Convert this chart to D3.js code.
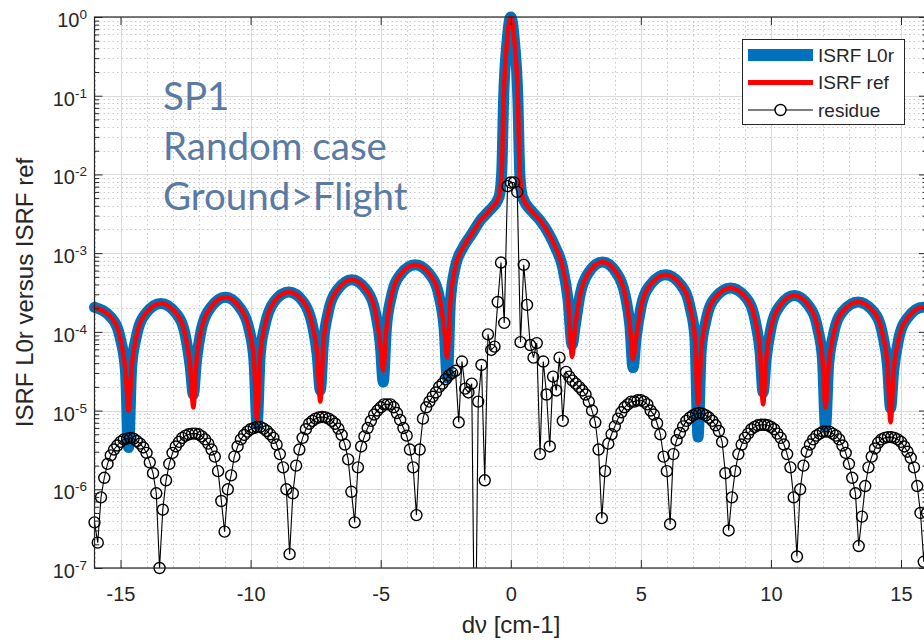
<!DOCTYPE html>
<html>
<head>
<meta charset="utf-8">
<script src="https://cdn.jsdelivr.net/npm/d3@7"></script>
<style>
  html, body { margin: 0; padding: 0; background: #ffffff; }
  svg { display: block; font-family: "Liberation Sans", Arial, Helvetica, sans-serif; }
</style>
</head>
<body>
<svg id="chart" width="924" height="640"></svg>
<script>
// ---- axis ticks ----
const xTicks = [-15, -10, -5, 0, 5, 10, 15];
const yDecades = [0, -1, -2, -3, -4, -5, -6, -7];

// ---- ISRF curves (knots across the spectral axis, cm-1) ----
const isrfX = [
  -16.0, -15.34, -14.99, -14.81, -14.69, -14.57, -14.39, -14.04, -13.45, -12.85, -12.5, -12.32,
  -12.2, -12.08, -11.9, -11.55, -10.97, -10.4, -10.05, -9.87,
  -9.75, -9.63, -9.45, -9.1, -8.53, -7.97, -7.62, -7.44,
  -7.32, -7.2, -7.02, -6.67, -6.11, -5.55, -5.2, -5.02,
  -4.9, -4.78, -4.6, -4.25, -3.67, -3.1, -2.74, -2.56,
  -2.44, -2.32, -2.14, -1.82, -1.5, -1.17, -0.85, -0.45, -0.35, -0.27, -0.14,
  0,
  0.14, 0.27, 0.35, 0.45, 0.85, 1.13, 1.45, 1.71, 2.0, 2.2,
  2.36, 2.48, 2.66, 3.0, 3.53, 4.05, 4.4, 4.58,
  4.7, 4.82, 5.0, 5.35, 5.95, 6.55, 6.9, 7.08,
  7.2, 7.32, 7.5, 7.85, 8.45, 9.05, 9.4, 9.58,
  9.7, 9.82, 10.0, 10.35, 10.9, 11.45, 11.8, 11.98,
  12.1, 12.22, 12.4, 12.75, 13.35, 13.95, 14.3, 14.48,
  14.6, 14.72, 14.9, 15.25, 15.85, 16.0
];
const isrfRef = [
  2.05e-4, 1.5e-4, 7.8e-5, 3.2e-5, 1.0e-5, 3.6e-5, 8.7e-5, 1.7e-4, 2.3e-4, 1.7e-4, 8.7e-5, 3.6e-5,
  1.1e-5, 4.3e-5, 1.05e-4, 2.0e-4, 2.75e-4, 2.0e-4, 1.05e-4, 4.3e-5,
  7.6e-6, 5.1e-5, 1.2e-4, 2.4e-4, 3.2e-4, 2.4e-4, 1.2e-4, 5.1e-5,
  1.3e-5, 7.3e-5, 1.75e-4, 3.4e-4, 4.6e-4, 3.4e-4, 1.75e-4, 7.3e-5,
  3.2e-5, 1.1e-4, 2.7e-4, 5.3e-4, 7.1e-4, 5.3e-4, 2.7e-4, 1.1e-4,
  4.7e-5, 2.4e-4, 6.5e-4, 1.2e-3, 1.75e-3, 2.6e-3, 3.4e-3, 5.2e-3, 1.0e-2, 1.0e-1, 0.5,
  1.0,
  0.5, 1.0e-1, 1.0e-2, 5.2e-3, 3.3e-3, 2.6e-3, 1.8e-3, 1.2e-3, 6.5e-4, 2.6e-4,
  4.8e-5, 1.2e-4, 2.9e-4, 5.7e-4, 7.7e-4, 5.7e-4, 2.9e-4, 1.2e-4,
  4.5e-5, 8.4e-5, 2.0e-4, 3.9e-4, 5.3e-4, 3.9e-4, 2.0e-4, 8.4e-5,
  1.2e-5, 5.7e-5, 1.37e-4, 2.7e-4, 3.6e-4, 2.7e-4, 1.37e-4, 5.7e-5,
  1.2e-5, 4.6e-5, 1.1e-4, 2.15e-4, 2.9e-4, 2.15e-4, 1.1e-4, 4.6e-5,
  1.1e-5, 3.8e-5, 9.1e-5, 1.8e-4, 2.4e-4, 1.8e-4, 9.1e-5, 3.8e-5,
  7.1e-6, 3.2e-5, 7.8e-5, 1.5e-4, 2.05e-4, 2.05e-4
];
const isrfL0r = [
  2.05e-4, 1.5e-4, 7.8e-5, 3.2e-5, 3.4e-6, 3.6e-5, 8.7e-5, 1.7e-4, 2.3e-4, 1.7e-4, 8.7e-5, 3.6e-5,
  1.6e-5, 4.3e-5, 1.05e-4, 2.0e-4, 2.75e-4, 2.0e-4, 1.05e-4, 4.3e-5,
  6.6e-6, 5.1e-5, 1.2e-4, 2.4e-4, 3.2e-4, 2.4e-4, 1.2e-4, 5.1e-5,
  1.8e-5, 7.3e-5, 1.75e-4, 3.4e-4, 4.6e-4, 3.4e-4, 1.75e-4, 7.3e-5,
  2.3e-5, 1.1e-4, 2.7e-4, 5.3e-4, 7.1e-4, 5.3e-4, 2.7e-4, 1.1e-4,
  2.6e-5, 2.4e-4, 6.5e-4, 1.2e-3, 1.75e-3, 2.6e-3, 3.4e-3, 5.2e-3, 1.0e-2, 1.0e-1, 0.5,
  1.0,
  0.5, 1.0e-1, 1.0e-2, 5.2e-3, 3.3e-3, 2.6e-3, 1.8e-3, 1.2e-3, 6.5e-4, 2.6e-4,
  6.8e-5, 1.2e-4, 2.9e-4, 5.7e-4, 7.7e-4, 5.7e-4, 2.9e-4, 1.2e-4,
  3.5e-5, 8.4e-5, 2.0e-4, 3.9e-4, 5.3e-4, 3.9e-4, 2.0e-4, 8.4e-5,
  4.6e-6, 5.7e-5, 1.37e-4, 2.7e-4, 3.6e-4, 2.7e-4, 1.37e-4, 5.7e-5,
  1.7e-5, 4.6e-5, 1.1e-4, 2.15e-4, 2.9e-4, 2.15e-4, 1.1e-4, 4.6e-5,
  6.2e-6, 3.8e-5, 9.1e-5, 1.8e-4, 2.4e-4, 1.8e-4, 9.1e-5, 3.8e-5,
  1.07e-5, 3.2e-5, 7.8e-5, 1.5e-4, 2.05e-4, 2.05e-4
];

// ---- residue |L0r - ref|, sampled every 0.125 cm-1 from -16 to 16 ----
const residueStart = -16;
const residueStep = 0.125;
const residue = [
  3.8e-7, 2.1e-7, 7.9e-7, 1.4e-6, 2.1e-6, 2.7e-6, 3.2e-6, 3.6e-6,   // -16
  4.0e-6, 4.3e-6, 4.4e-6, 4.5e-6, 4.4e-6, 4.1e-6, 3.8e-6, 3.4e-6,   // -15
  2.9e-6, 2.2e-6, 1.6e-6, 8.9e-7, 1.0e-7, 5.5e-7, 1.3e-6, 2.1e-6,   // -14
  2.9e-6, 3.5e-6, 4.0e-6, 4.5e-6, 4.8e-6, 5.0e-6, 5.1e-6, 5.1e-6,   // -13
  5.0e-6, 4.7e-6, 4.3e-6, 3.8e-6, 3.2e-6, 2.6e-6, 1.7e-6, 7.1e-7,   // -12
  2.9e-7, 1.0e-6, 1.5e-6, 2.6e-6, 3.5e-6, 4.3e-6, 4.9e-6, 5.4e-6,   // -11
  5.8e-6, 6.0e-6, 6.2e-6, 6.2e-6, 5.9e-6, 5.5e-6, 5.0e-6, 4.5e-6,   // -10
  3.7e-6, 2.8e-6, 1.9e-6, 1.0e-6, 1.5e-7, 8.9e-7, 2.0e-6, 3.2e-6,   // -9
  4.5e-6, 5.8e-6, 6.8e-6, 7.4e-6, 7.9e-6, 8.2e-6, 8.3e-6, 8.2e-6,   // -8
  7.9e-6, 7.4e-6, 6.8e-6, 5.9e-6, 4.9e-6, 3.7e-6, 2.4e-6, 9.3e-7,   // -7
  3.8e-7, 1.9e-6, 3.5e-6, 4.7e-6, 6.0e-6, 7.4e-6, 8.9e-6, 1.0e-5,   // -6
  1.1e-5, 1.2e-5, 1.2e-5, 1.2e-5, 1.1e-5, 9.3e-6, 7.6e-6, 6.0e-6,   // -5
  4.8e-6, 3.2e-6, 1.9e-6, 4.7e-7, 3.2e-6, 7.9e-6, 1.1e-5, 1.3e-5,   // -4
  1.5e-5, 1.7e-5, 2.0e-5, 2.2e-5, 2.5e-5, 2.8e-5, 3.0e-5, 3.2e-5,   // -3
  7.1e-6, 4.2e-5, 1.9e-5, 1.7e-5, 2.2e-5, 2.0e-9, 1.3e-5, 3.8e-5,   // -2
  1.3e-6, 9.3e-5, 5.9e-5, 6.5e-5, 2.4e-4, 7.6e-4, 1.3e-4, 7.1e-3,   // -1
  7.9e-3, 7.9e-3, 6.0e-3, 7.4e-5, 7.1e-4, 2.2e-4, 6.8e-5, 4.7e-5,   // 0
  7.2e-5, 2.8e-6, 4.2e-5, 1.6e-5, 3.5e-6, 2.7e-5, 1.8e-5, 4.7e-5,   // 1
  7.4e-6, 3.1e-5, 2.7e-5, 2.4e-5, 2.2e-5, 2.0e-5, 1.8e-5, 1.6e-5,   // 2
  1.3e-5, 1.0e-5, 7.1e-6, 3.2e-6, 4.3e-7, 1.7e-6, 3.8e-6, 5.0e-6,   // 3
  6.3e-6, 7.9e-6, 9.5e-6, 1.1e-5, 1.2e-5, 1.3e-5, 1.3e-5, 1.35e-5,  // 4
  1.35e-5, 1.3e-5, 1.2e-5, 1.0e-5, 8.9e-6, 6.9e-6, 5.0e-6, 2.6e-6,  // 5
  1.7e-6, 3.6e-7, 2.8e-6, 4.2e-6, 5.2e-6, 6.3e-6, 7.4e-6, 8.1e-6,   // 6
  8.7e-6, 9.1e-6, 9.3e-6, 9.1e-6, 8.7e-6, 8.1e-6, 7.4e-6, 6.5e-6,   // 7
  5.5e-6, 4.0e-6, 1.6e-6, 3.0e-7, 7.9e-7, 1.7e-6, 2.8e-6, 3.7e-6,   // 8
  4.5e-6, 5.1e-6, 5.8e-6, 6.2e-6, 6.5e-6, 6.6e-6, 6.6e-6, 6.5e-6,   // 9
  6.2e-6, 5.8e-6, 5.1e-6, 4.5e-6, 3.7e-6, 2.8e-6, 1.9e-6, 7.9e-7,   // 10
  1.4e-7, 1.0e-6, 2.0e-6, 3.0e-6, 3.7e-6, 4.3e-6, 4.8e-6, 5.1e-6,   // 11
  5.4e-6, 5.4e-6, 5.4e-6, 5.1e-6, 4.8e-6, 4.3e-6, 3.6e-6, 2.9e-6,   // 12
  2.1e-6, 1.4e-6, 8.9e-7, 1.9e-7, 4.5e-7, 1.1e-6, 1.9e-6, 2.6e-6,   // 13
  3.3e-6, 3.9e-6, 4.3e-6, 4.5e-6, 4.6e-6, 4.6e-6, 4.5e-6, 4.3e-6,   // 14
  4.0e-6, 3.5e-6, 3.0e-6, 2.5e-6, 1.9e-6, 1.1e-6, 5.0e-7, 1.2e-7,   // 15
  5.0e-7                                                             // 16
];

const seriesNames = ["ISRF L0r", "ISRF ref", "residue"];
const noteLines = ["SP1", "Random case", "Ground>Flight"];
const xLabel = "d\u03bd [cm-1]";
const yLabel = "ISRF L0r versus ISRF ref";

// ---- layout ----
const colors = { l0r: "#0072bd", ref: "#ff0000", residue: "#000000", axis: "#262626", note: "#5a7aa3" };
const plot = { left: 94.5, right: 927, top: 17, bottom: 568 };

const svg = d3.select("#chart");
const x = d3.scaleLinear().domain([-16, 16]).range([plot.left, plot.right]);
const y = d3.scaleLog().domain([1e-7, 1]).range([plot.bottom, plot.top]);

svg.append("defs").append("clipPath").attr("id", "plotClip")
  .append("rect")
  .attr("x", plot.left).attr("y", plot.top - 20)
  .attr("width", plot.right - plot.left).attr("height", plot.bottom - plot.top + 20);

// ---- grid ----
const yMinor = [];
for (let e = -7; e < 0; e++) for (let k = 2; k <= 9; k++) yMinor.push(k * Math.pow(10, e));
const xMinor = d3.range(-16, 16.001, 1).filter(v => v % 5 !== 0);

const grid = svg.append("g");
grid.selectAll(".xmin").data(xMinor).join("line")
  .attr("x1", d => Math.round(x(d)) + 0.5).attr("x2", d => Math.round(x(d)) + 0.5)
  .attr("y1", plot.top).attr("y2", plot.bottom)
  .attr("stroke", "#c8c8c8").attr("stroke-width", 1).attr("stroke-dasharray", "1.5,3");
grid.selectAll(".ymin").data(yMinor).join("line")
  .attr("x1", plot.left).attr("x2", plot.right)
  .attr("y1", d => Math.round(y(d)) + 0.5).attr("y2", d => Math.round(y(d)) + 0.5)
  .attr("stroke", "#c8c8c8").attr("stroke-width", 1).attr("stroke-dasharray", "1.5,3");
grid.selectAll(".xmaj").data(xTicks).join("line")
  .attr("x1", d => Math.round(x(d)) + 0.5).attr("x2", d => Math.round(x(d)) + 0.5)
  .attr("y1", plot.top).attr("y2", plot.bottom)
  .attr("stroke", "#dadada").attr("stroke-width", 1);
grid.selectAll(".ymaj").data(yDecades).join("line")
  .attr("x1", plot.left).attr("x2", plot.right)
  .attr("y1", d => Math.round(y(Math.pow(10, d))) + 0.5).attr("y2", d => Math.round(y(Math.pow(10, d))) + 0.5)
  .attr("stroke", "#dadada").attr("stroke-width", 1);

// ---- annotation ----
const note = svg.append("g").attr("font-family", "Lato, 'Open Sans', sans-serif")
  .attr("fill", colors.note).attr("font-size", 38.5);
noteLines.forEach((t, i) => {
  note.append("text").attr("x", 163).attr("y", 110 + i * 50).text(t);
});

// ---- ISRF curves ----
const isrfLine = () => d3.line()
  .x((d, i) => x(isrfX[i]))
  .y(d => y(d))
  .curve(d3.curveMonotoneX);

svg.append("path").datum(isrfL0r)
  .attr("d", isrfLine())
  .attr("fill", "none").attr("stroke", colors.l0r)
  .attr("stroke-width", 11).attr("stroke-linejoin", "round").attr("stroke-linecap", "round");

svg.append("path").datum(isrfRef)
  .attr("d", isrfLine())
  .attr("fill", "none").attr("stroke", colors.ref)
  .attr("stroke-width", 4.5).attr("stroke-linejoin", "round").attr("stroke-linecap", "round");

// ---- residue ----
const resPts = residue.map((v, i) => ({ x: residueStart + i * residueStep, v }));
svg.append("path").datum(resPts)
  .attr("clip-path", "url(#plotClip)")
  .attr("d", d3.line().x(d => x(d.x)).y(d => y(d.v)))
  .attr("fill", "none").attr("stroke", colors.residue).attr("stroke-width", 1.1);

svg.append("g").selectAll("circle")
  .data(resPts.filter(d => d.v >= 1e-7))
  .join("circle")
  .attr("cx", d => x(d.x)).attr("cy", d => y(d.v)).attr("r", 5.5)
  .attr("fill", "none").attr("stroke", colors.residue).attr("stroke-width", 1.4);

// ---- axes (ticks inward) ----
const axisG = svg.append("g").attr("color", colors.axis);
const styleAxis = g => { g.select(".domain").remove(); g.selectAll("line").attr("stroke-width", 1); };

axisG.append("g").attr("transform", `translate(0,${plot.bottom})`)
  .call(d3.axisBottom(x).tickValues(xTicks).tickSize(-8).tickPadding(19).tickFormat(d3.format("d")))
  .call(styleAxis)
  .call(g => g.selectAll("text").attr("font-size", 20).attr("fill", colors.axis)
    .text(d => (d < 0 ? "-" : "") + Math.abs(d)));

axisG.append("g").attr("transform", `translate(0,${plot.top})`)
  .call(d3.axisTop(x).tickValues(xTicks).tickSize(-8).tickFormat(""))
  .call(styleAxis);

const decadeVals = yDecades.map(e => Math.pow(10, e));
axisG.append("g").attr("transform", `translate(${plot.left},0)`)
  .call(d3.axisLeft(y).tickValues(decadeVals).tickSize(-8).tickFormat(""))
  .call(styleAxis);
axisG.append("g").attr("transform", `translate(${plot.left},0)`)
  .call(d3.axisLeft(y).tickValues(yMinor).tickSize(-4.5).tickFormat(""))
  .call(styleAxis);
axisG.append("g").attr("transform", `translate(${plot.right},0)`)
  .call(d3.axisRight(y).tickValues(decadeVals).tickSize(-8).tickFormat(""))
  .call(styleAxis);
axisG.append("g").attr("transform", `translate(${plot.right},0)`)
  .call(d3.axisRight(y).tickValues(yMinor).tickSize(-4.5).tickFormat(""))
  .call(styleAxis);

svg.append("rect")
  .attr("x", plot.left).attr("y", plot.top)
  .attr("width", plot.right - plot.left).attr("height", plot.bottom - plot.top)
  .attr("fill", "none").attr("stroke", colors.axis).attr("stroke-width", 1.2);

// y tick labels as 10^n
const yLab = svg.append("g").attr("fill", colors.axis);
yDecades.forEach(e => {
  const t = yLab.append("text").attr("text-anchor", "end")
    .attr("x", 87).attr("y", y(Math.pow(10, e)) + 10);
  t.append("tspan").attr("font-size", 20).text("10");
  t.append("tspan").attr("font-size", 13.5).attr("dy", -8).text(String(e));
});

// axis titles
svg.append("text").attr("x", 511).attr("y", 633).attr("text-anchor", "middle")
  .attr("font-size", 24).attr("fill", colors.axis).text(xLabel);
svg.append("text").attr("transform", "translate(33,292.5) rotate(-90)")
  .attr("text-anchor", "middle").attr("font-size", 24).attr("fill", colors.axis).text(yLabel);

// ---- legend ----
const lg = svg.append("g");
lg.append("rect").attr("x", 742.5).attr("y", 39.5).attr("width", 162).attr("height", 85)
  .attr("fill", "#ffffff").attr("stroke", colors.axis).attr("stroke-width", 1);
const legendRows = [
  { name: seriesNames[0], color: colors.l0r, w: 12, marker: false },
  { name: seriesNames[1], color: colors.ref, w: 5, marker: false },
  { name: seriesNames[2], color: colors.residue, w: 1.1, marker: true }
];
legendRows.forEach((r, i) => {
  const cy = 55 + i * 27.5;
  lg.append("line").attr("x1", 748).attr("x2", 813).attr("y1", cy).attr("y2", cy)
    .attr("stroke", r.color).attr("stroke-width", r.w);
  if (r.marker) lg.append("circle").attr("cx", 780.5).attr("cy", cy).attr("r", 5.5)
    .attr("fill", "#ffffff").attr("stroke", r.color).attr("stroke-width", 1.4);
  lg.append("text").attr("x", 818).attr("y", cy + 6.5).attr("font-size", 19)
    .attr("fill", colors.axis).text(r.name);
});
</script>
</body>
</html>
